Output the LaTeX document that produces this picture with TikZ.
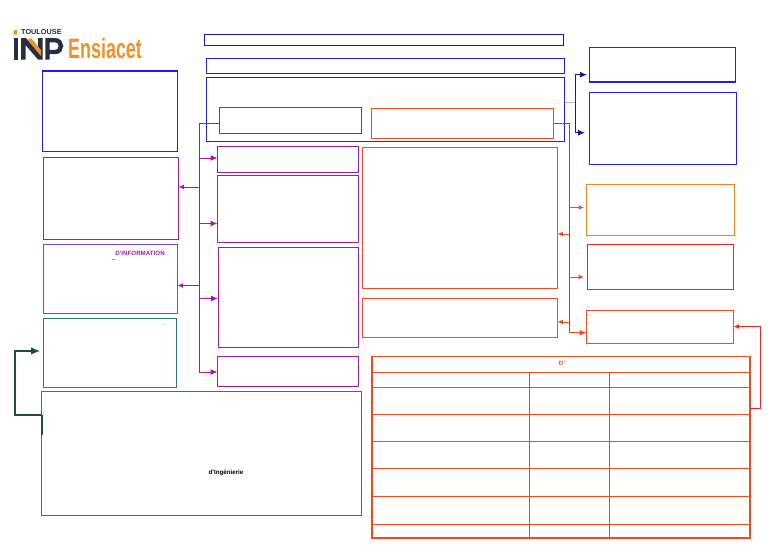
\documentclass[tikz,border=0pt]{standalone}
\usepackage{fontspec}
\setmainfont{Liberation Sans}
\usetikzlibrary{arrows.meta}
\definecolor{cnavy}{RGB}{20,20,170}
\definecolor{cblue}{RGB}{30,30,240}
\definecolor{cpurple}{RGB}{165,25,165}
\definecolor{cviolet}{RGB}{140,70,175}
\definecolor{corange}{RGB}{250,125,30}
\definecolor{credd}{RGB}{245,35,35}
\definecolor{cor}{RGB}{250,70,30}
\definecolor{cteal}{RGB}{40,125,120}
\definecolor{cdark}{RGB}{35,75,75}
\definecolor{cink}{RGB}{40,45,65}
\definecolor{clogo}{RGB}{240,145,40}
\tikzset{
  x=1pt,y=-1pt,
  boxline/.style={line width=1pt,fill=none,inner sep=0pt,outer sep=0pt,anchor=north west},
  tip/.style={-{Latex[length=7pt,width=6pt]}},
  smalltip/.style={-{Latex[length=5.5pt,width=5pt]}},
  link/.style={line width=1pt},
  lbl/.style={inner sep=0pt,font=\bfseries\fontsize{6.2}{7}\selectfont}
}
\begin{document}
\begin{tikzpicture}
\useasboundingbox (0,0) rectangle (768,544);
% logo
\fill[clogo] (13.5,34.5) -- (13.5,31.5) -- (15,29.5) -- (17,29.5) -- (17,34.5) -- cycle;
\node[inner sep=0pt,anchor=west,text=cink] (logotop) at (21,32) {\bfseries\fontsize{7.3}{8}\selectfont TOULOUSE};
\fill[cink] (13.5,38) rectangle (18,59.5);
\fill[cink] (21,59.5) -- (21,38) -- (26,38) -- (38,52) -- (38,38) -- (42.5,38) -- (42.5,59.5) -- (38,59.5) -- (25.5,45) -- (25.5,59.5) -- cycle;
\fill[clogo] (27.5,40) -- (31,38) -- (41,50) -- (41,56) -- cycle;
\draw[cink,line width=4.4pt] (47.5,59.5) -- (47.5,40.2) -- (55,40.2) .. controls (63,40.2) and (63,52) .. (55,52) -- (47.5,52);
\node[inner sep=0pt,anchor=west,text=clogo] (logoname) at (68,48.5) {\bfseries\fontsize{28}{30}\selectfont\addfontfeature{FakeStretch=0.64}Ensiacet};
% boxes
\node[draw=cnavy,boxline,minimum width=359pt,minimum height=11pt] (title) at (204.5,34) {};
\node[draw=cblue,boxline,minimum width=358pt,minimum height=15pt] (sub) at (206.5,58) {};
\node[draw=cblue,boxline,minimum width=358pt,minimum height=64pt] (main) at (206.5,77.5) {};
\node[draw=cpurple,boxline,minimum width=142pt,minimum height=25.5pt] (pa) at (219.5,107.5) {};
\node[draw=cor,boxline,minimum width=182pt,minimum height=30pt] (oa) at (371.5,108) {};
\node[draw=cblue,boxline,minimum width=146pt,minimum height=35pt] (ra) at (589,47) {};
\node[draw=cblue,boxline,minimum width=147pt,minimum height=72pt] (rb) at (589,92.5) {};
\node[draw=corange,boxline,minimum width=148pt,minimum height=51pt] (rc) at (586.5,184.5) {};
\node[draw=credd,boxline,minimum width=146pt,minimum height=44.5pt] (rd) at (587.5,244.5) {};
\node[draw=cor,boxline,minimum width=147pt,minimum height=33.5pt] (re) at (586.5,310) {};
\node[draw=cblue,boxline,minimum width=135.5pt,minimum height=80.5pt] (la) at (42,71) {};
\node[draw=cpurple,boxline,minimum width=135.5pt,minimum height=82pt] (lb) at (43,157) {};
\node[draw=cviolet,boxline,minimum width=134pt,minimum height=69pt] (lc) at (43.5,244) {};
\node[draw=cteal,boxline,minimum width=133pt,minimum height=69pt] (ld) at (43.5,318) {};
\node[draw=cteal,boxline,minimum width=319.5pt,minimum height=123.5pt] (le) at (41.5,391.5) {};
\node[draw=cpurple,boxline,minimum width=141pt,minimum height=26pt] (ca) at (217.5,146) {};
\node[draw=cpurple,boxline,minimum width=140.5pt,minimum height=67pt] (cb) at (217.5,175.5) {};
\node[draw=cpurple,boxline,minimum width=140.5pt,minimum height=100pt] (cc) at (218,247) {};
\node[draw=cpurple,boxline,minimum width=141pt,minimum height=30pt] (cd) at (217.5,356.5) {};
\node[draw=cor,boxline,minimum width=195.5pt,minimum height=141pt] (oc) at (362,147) {};
\node[draw=cor,boxline,minimum width=195.5pt,minimum height=38.5pt] (od) at (362,298.5) {};
% thick edges
\draw[cpurple,line width=1.6pt] (pa.north east) -- (pa.south east);
\draw[cpurple,line width=1.6pt] (ca.north east) -- (ca.south east);
\draw[cblue,line width=1.6pt] (ra.south west) -- (ra.south east);
\draw[cblue,line width=1.6pt] (rb.north west) -- (rb.north east);
\draw[cblue,line width=1.6pt] (la.north west) -- (la.north east);
% table
\node[draw=cor,boxline,line width=1.4pt,minimum width=378pt,minimum height=181.5pt] (tbl) at (372,356.5) {};
\foreach \y in {372,387,414,441,468,496,524}{
  \draw[cor,line width=1pt] (372,\y) -- (750,\y);
}
\foreach \x in {529,609.5}{
  \draw[cor,line width=1pt] (\x,372) -- (\x,538);
}
% junctions
\coordinate (pj) at (199,123.5);
\coordinate (bj) at (575,102);
\coordinate (oj) at (569,123);
\coordinate (tj) at (42,415);
% purple
\draw[cpurple,line width=1.4pt] (pa.west |- pj) -- (pj);
\draw[cpurple,link,tip] (pj) -- (199,372) -- (cd.west |- 0,372);
\draw[cpurple,link,tip] (199,158) -- (ca.west |- 0,158);
\draw[cpurple,link,tip] (199,223.5) -- (cb.west |- 0,223.5);
\draw[cpurple,link,tip] (199,298.5) -- (cc.west |- 0,298.5);
\draw[cpurple,link,smalltip] (199,187) -- (lb.east |- 0,187);
\draw[cpurple,link,smalltip] (199,285.5) -- (lc.east |- 0,285.5);
% blue
\draw[cblue!35!white,link] (main.east |- bj) -- (bj);
\draw[cnavy,link,tip] (575,132.5) -- (575,74.7) -- (587,74.7);
\draw[cnavy,link,tip] (575,100) -- (575,132.7) -- (585,132.7);
% red
\draw[credd,link] (oa.east |- oj) -- (oj) -- (569,332.5);
\draw[cor!70!gray,link,smalltip] (569,207.5) -- (584,207.5);
\draw[cor,link,smalltip] (569,234) -- (oc.east |- 0,234);
\draw[cor!70!gray,link,smalltip] (569,277) -- (584,277);
\draw[cor,link,smalltip] (569,322) -- (od.east |- 0,322);
\draw[cor,link,tip] (569,332.7) -- (re.west |- 0,332.7);
\draw[credd,link,smalltip] (tbl.east |- 0,408) -- (760,408) -- (760,326.5) -- (re.east |- 0,326.5);
% teal
\draw[cdark,line width=1.1pt,-{Latex[length=9pt,width=7.5pt]}] (tj) -- (15,415) -- (15,351) -- (40,351);
\draw[cdark,line width=1.1pt] (tj) -- (42,435);
% text
\node[lbl,text=cpurple] (t1) at (140,253) {D'INFORMATION};
\node[lbl,text=cpurple] (t2) at (113.5,261) {–};
\node[lbl,text=cteal!60!white] (t3) at (164.5,326) {'};
\node[lbl,text=black] (t4) at (226,473) {d'Ingénierie};
\node[lbl,text=cor] (t5) at (562,363) {D'};
\end{tikzpicture}
\end{document}
